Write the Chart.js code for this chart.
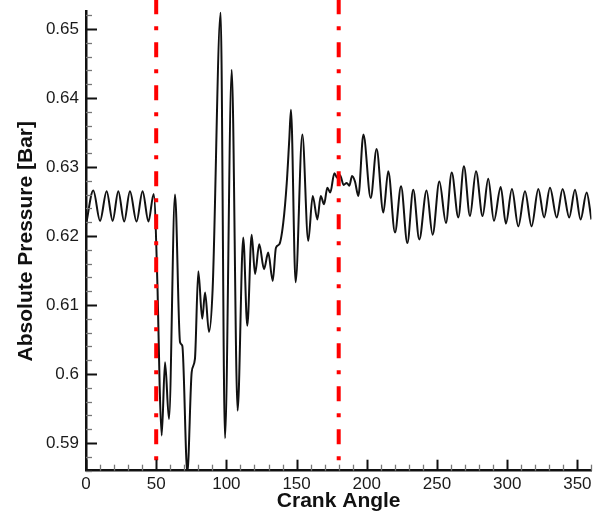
<!DOCTYPE html>
<html>
<head>
<meta charset="utf-8">
<script src="https://cdn.jsdelivr.net/npm/chart.js@4/dist/chart.umd.min.js"></script>
<style>
  html, body { margin: 0; padding: 0; background: #fff; }
  #wrap { width: 606px; height: 513px; position: relative; }
</style>
</head>
<body>
<div id="wrap"><canvas id="pressureChart"></canvas></div>
<script>
// Crank angle (deg) and absolute pressure (bar)
const crankAngle = [
    0, 5.2, 10, 14.7, 19, 23, 27.2, 31.3, 36, 40.3, 44.5, 48.2,
    51, 52.5, 53.9, 56.3, 59.1, 63.4, 67, 68.6, 72.2, 75.3, 77.6, 80,
    82.8, 84.8, 87.6, 90.2, 95.9, 99, 103.8, 108, 112, 114.9, 118, 120.4,
    123.4, 126.8, 129.8, 133, 135.3, 137.7, 140.5, 143, 144.8, 146, 149.3, 154.1,
    158.3, 161.5, 164.8, 167.2, 169.6, 171.9, 174, 176.9, 179, 181, 183.5, 185.7,
    187.6, 189.5, 191.6, 194, 197.6, 202.8, 207, 211.8, 215.3, 220.1, 224.4, 228.9,
    233.1, 237.4, 242.6, 246.9, 251.7, 256.4, 260.5, 265.2, 269.2, 273.5, 277.8, 282.5,
    286.5, 290.6, 295.4, 299.1, 303.4, 307.9, 312.7, 317.4, 322.2, 326.3, 330.5, 335.3,
    339.5, 344.2, 348.3, 352.3, 356.6, 360
];
const pressure = [
    0.6216, 0.6266, 0.6222, 0.6265, 0.6222, 0.6265, 0.6221, 0.6265, 0.6221, 0.6265, 0.6221, 0.6261,
    0.6120, 0.5980, 0.5911, 0.6017, 0.5935, 0.6260, 0.6046, 0.6041, 0.5857, 0.6003, 0.6022, 0.6149,
    0.6080, 0.6118, 0.6061, 0.6123, 0.6524, 0.5907, 0.6441, 0.5947, 0.6198, 0.6070, 0.6202, 0.6145,
    0.6188, 0.6152, 0.6176, 0.6135, 0.6183, 0.6188, 0.6219, 0.6277, 0.6340, 0.6383, 0.6133, 0.6347,
    0.6193, 0.6258, 0.6224, 0.6258, 0.6246, 0.6270, 0.6263, 0.6291, 0.6284, 0.6288, 0.6274, 0.6277,
    0.6273, 0.6287, 0.6279, 0.6258, 0.6347, 0.6255, 0.6326, 0.6234, 0.6294, 0.6205, 0.6272, 0.6190,
    0.6267, 0.6195, 0.6266, 0.6202, 0.6279, 0.6219, 0.6292, 0.6227, 0.6301, 0.6229, 0.6294, 0.6229,
    0.6283, 0.6222, 0.6271, 0.6218, 0.6268, 0.6214, 0.6265, 0.6214, 0.6268, 0.6227, 0.6270, 0.6227,
    0.6268, 0.6227, 0.6267, 0.6224, 0.6263, 0.6224
];

// Dash-dot marker lines (crank angle)
const markerAngles = [50, 180];

// Axis ranges and tick labels
const xMin = 0, xMax = 360;
const yMin = 0.586, yMax = 0.6525;
const xTicks = [0, 50, 100, 150, 200, 250, 300, 350];
const yTicks = [0.59, 0.6, 0.61, 0.62, 0.63, 0.64, 0.65];
const xMinorStep = 10;
const yMinorStep = 0.002;

const curve = crankAngle.map((a, i) => ({ x: a, y: pressure[i] }));

// Draw the inward major/minor tick marks
const innerTicks = {
    id: 'innerTicks',
    afterDraw(chart) {
        const ctx = chart.ctx;
        const area = chart.chartArea;
        const xs = chart.scales.x;
        const ys = chart.scales.y;
        ctx.save();
        ctx.lineCap = 'butt';

        for (let v = xMin; v <= xMax; v += xMinorStep) {
            const major = xTicks.includes(v);
            const px = Math.round(xs.getPixelForValue(v)) + 0.5;
            ctx.strokeStyle = major ? '#111' : '#777';
            ctx.lineWidth = major ? 2 : 1.3;
            ctx.beginPath();
            ctx.moveTo(px, area.bottom);
            ctx.lineTo(px, area.bottom - (major ? 11 : 6));
            ctx.stroke();
        }

        const kStart = Math.ceil(yMin / yMinorStep - 1e-6);
        const kEnd = Math.floor(yMax / yMinorStep + 1e-6);
        for (let k = kStart; k <= kEnd; k++) {
            const v = k * yMinorStep;
            const major = yTicks.some(t => Math.abs(t - v) < 1e-6);
            const py = Math.round(ys.getPixelForValue(v)) + 0.5;
            ctx.strokeStyle = major ? '#111' : '#777';
            ctx.lineWidth = major ? 2 : 1.3;
            ctx.beginPath();
            ctx.moveTo(area.left, py);
            ctx.lineTo(area.left + (major ? 11 : 6), py);
            ctx.stroke();
        }
        ctx.restore();
    }
};

const markerSets = markerAngles.map(a => ({
    data: [{ x: a, y: 0.6543 }, { x: a, y: yMin }],
    borderColor: '#ff0000',
    borderWidth: 4,
    borderDash: [15, 12, 4, 12],
    borderCapStyle: 'butt',
    pointRadius: 0,
    tension: 0,
    clip: false,
    order: 0
}));

const tickFont = { family: "'Liberation Sans', Arial, sans-serif", size: 17 };
const titleFont = { family: "'Liberation Sans', Arial, sans-serif", size: 21, weight: 'bold', lineHeight: 1 };

new Chart(document.getElementById('pressureChart'), {
    type: 'line',
    data: {
        datasets: [
            {
                data: curve,
                borderColor: '#111',
                borderWidth: 2,
                pointRadius: 0,
                cubicInterpolationMode: 'monotone',
                order: 1
            },
            ...markerSets
        ]
    },
    options: {
        responsive: true,
        maintainAspectRatio: false,
        animation: false,
        layout: { padding: { left: 0, right: 14.6, top: 11.7, bottom: 0 } },
        plugins: {
            legend: { display: false },
            tooltip: { enabled: false }
        },
        scales: {
            x: {
                type: 'linear',
                min: xMin,
                max: xMax,
                afterBuildTicks: s => { s.ticks = xTicks.map(v => ({ value: v })); },
                afterFit: s => { s.height = 42.3; s.paddingLeft = 0; s.paddingRight = 0; },
                grid: { display: false, drawTicks: false },
                border: { display: true, color: '#111', width: 2.5 },
                ticks: {
                    color: '#1a1a1a',
                    font: tickFont,
                    padding: 3,
                    maxRotation: 0,
                    callback: v => String(v)
                },
                title: {
                    display: true,
                    text: 'Crank Angle',
                    color: '#111',
                    font: titleFont,
                    padding: { top: 1, bottom: 1 }
                }
            },
            y: {
                type: 'linear',
                min: yMin,
                max: yMax,
                afterBuildTicks: s => { s.ticks = yTicks.map(v => ({ value: v })); },
                afterFit: s => { s.width = 86; s.paddingTop = 0; s.paddingBottom = 0; },
                grid: { display: false, drawTicks: false },
                border: { display: true, color: '#111', width: 2.5 },
                ticks: {
                    color: '#1a1a1a',
                    font: tickFont,
                    padding: 7,
                    callback: v => String(v)
                },
                title: {
                    display: true,
                    text: 'Absolute Pressure [Bar]',
                    color: '#111',
                    font: titleFont,
                    padding: { top: 16, bottom: 16 }
                }
            }
        }
    },
    plugins: [innerTicks]
});
</script>
</body>
</html>
